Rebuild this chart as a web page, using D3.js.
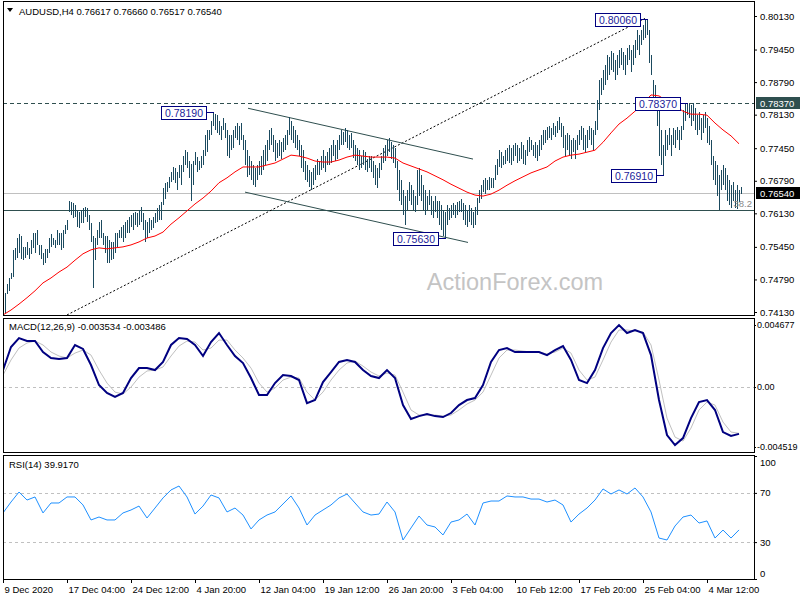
<!DOCTYPE html>
<html><head><meta charset="utf-8">
<script src="https://cdn.jsdelivr.net/npm/d3@7"></script>
<style>body{margin:0;background:#fff}svg{display:block}text{font-family:"Liberation Sans",Arial,sans-serif}</style>
</head><body><svg id="c" width="800" height="600"></svg>
<script>
const symbolName = "AUDUSD,H4";
const lastOHLC = ["0.76617","0.76660","0.76517","0.76540"];
const highs = [
0.7441,0.7451,0.7469,0.7481,0.7492,0.7538,0.7542,0.7564,0.7572,0.7568,
0.7544,0.7544,0.7554,0.7542,0.7558,0.7574,0.7574,0.7579,0.7548,0.7548,
0.7533,0.7540,0.7540,0.7564,0.7572,0.7564,0.7558,0.7579,0.7574,0.7574,
0.7579,0.7589,0.7599,0.7639,0.7635,0.7633,0.7629,0.7619,0.7615,0.7619,
0.7623,0.7625,0.7623,0.7609,0.7593,0.7568,0.7564,0.7579,0.7595,0.7599,
0.7574,0.7568,0.7568,0.7558,0.7554,0.7554,0.7574,0.7574,0.7579,0.7585,
0.7589,0.7595,0.7599,0.7605,0.7609,0.7613,0.7615,0.7613,0.7619,0.7625,
0.7613,0.7599,0.7595,0.7603,0.7599,0.7605,0.7613,0.7623,0.7629,0.7635,
0.7664,0.7674,0.7676,0.7686,0.7696,0.7707,0.7705,0.7696,0.7710,0.7710,
0.7730,0.7741,0.7737,0.7720,0.7714,0.7720,0.7737,0.7727,0.7720,0.7730,
0.7741,0.7771,0.7781,0.7781,0.7801,0.7819,0.7815,0.7812,0.7801,0.7791,
0.7806,0.7797,0.7781,0.7771,0.7771,0.7781,0.7791,0.7797,0.7791,0.7797,
0.7771,0.7761,0.7741,0.7730,0.7720,0.7710,0.7705,0.7710,0.7720,0.7730,
0.7741,0.7751,0.7761,0.7781,0.7785,0.7771,0.7761,0.7755,0.7761,0.7757,
0.7765,0.7771,0.7781,0.7808,0.7801,0.7791,0.7781,0.7771,0.7761,0.7751,
0.7741,0.7720,0.7710,0.7700,0.7696,0.7705,0.7710,0.7724,0.7720,0.7730,
0.7741,0.7730,0.7737,0.7745,0.7751,0.7761,0.7751,0.7761,0.7771,0.7781,
0.7777,0.7785,0.7781,0.7771,0.7775,0.7761,0.7751,0.7745,0.7741,0.7730,
0.7741,0.7737,0.7724,0.7730,0.7730,0.7720,0.7710,0.7705,0.7716,0.7730,
0.7745,0.7751,0.7761,0.7765,0.7757,0.7751,0.7745,0.7720,0.7700,0.7680,
0.7660,0.7649,0.7660,0.7676,0.7670,0.7660,0.7649,0.7700,0.7705,0.7690,
0.7670,0.7660,0.7649,0.7660,0.7649,0.7639,0.7649,0.7639,0.7639,0.7629,
0.7619,0.7615,0.7629,0.7623,0.7629,0.7633,0.7629,0.7635,0.7639,0.7643,
0.7633,0.7629,0.7619,0.7629,0.7623,0.7615,0.7625,0.7645,0.7660,0.7670,
0.7680,0.7684,0.7680,0.7686,0.7684,0.7684,0.7710,0.7724,0.7741,0.7737,
0.7730,0.7741,0.7745,0.7751,0.7745,0.7751,0.7755,0.7751,0.7745,0.7757,
0.7751,0.7741,0.7761,0.7767,0.7761,0.7751,0.7757,0.7751,0.7761,0.7771,
0.7781,0.7781,0.7787,0.7791,0.7785,0.7797,0.7791,0.7801,0.7808,0.7797,
0.7791,0.7771,0.7775,0.7771,0.7761,0.7765,0.7761,0.7771,0.7781,0.7791,
0.7785,0.7771,0.7781,0.7791,0.7785,0.7781,0.7801,0.7842,0.7883,0.7887,
0.7903,0.7913,0.7933,0.7929,0.7942,0.7937,0.7923,0.7933,0.7944,0.7948,
0.7940,0.7933,0.7948,0.7954,0.7944,0.7954,0.7964,0.7984,0.7974,0.7984,
0.7994,0.8004,0.8006,0.7984,0.7933,0.7883,0.7873,0.7842,0.7822,0.7781,
0.7751,0.7781,0.7771,0.7785,0.7771,0.7785,0.7781,0.7787,0.7781,0.7791,
0.7822,0.7835,0.7837,0.7834,0.7832,0.7836,0.7826,0.7812,0.7818,0.7806,
0.7812,0.7818,0.7806,0.7791,0.7761,0.7730,0.7720,0.7710,0.7690,0.7700,
0.7710,0.7705,0.7690,0.7680,0.7670,0.7676,0.7660,0.7670,0.7660,0.7666
];
const lows = [
0.7420,0.7410,0.7449,0.7455,0.7480,0.7483,0.7518,0.7523,0.7533,0.7521,
0.7518,0.7523,0.7528,0.7521,0.7531,0.7542,0.7533,0.7548,0.7528,0.7521,
0.7508,0.7513,0.7523,0.7533,0.7544,0.7548,0.7542,0.7548,0.7548,0.7538,
0.7542,0.7572,0.7579,0.7615,0.7609,0.7603,0.7605,0.7585,0.7583,0.7593,
0.7593,0.7605,0.7595,0.7579,0.7554,0.7461,0.7518,0.7548,0.7562,0.7564,
0.7548,0.7533,0.7513,0.7513,0.7518,0.7521,0.7533,0.7544,0.7562,0.7564,
0.7554,0.7564,0.7574,0.7574,0.7585,0.7579,0.7589,0.7585,0.7589,0.7595,
0.7579,0.7554,0.7564,0.7574,0.7579,0.7583,0.7593,0.7595,0.7599,0.7599,
0.7629,0.7643,0.7656,0.7664,0.7676,0.7680,0.7674,0.7660,0.7684,0.7670,
0.7696,0.7710,0.7704,0.7684,0.7639,0.7670,0.7710,0.7696,0.7700,0.7704,
0.7710,0.7730,0.7737,0.7761,0.7771,0.7791,0.7781,0.7775,0.7771,0.7761,
0.7781,0.7765,0.7730,0.7726,0.7741,0.7745,0.7765,0.7761,0.7751,0.7761,
0.7741,0.7710,0.7686,0.7690,0.7680,0.7670,0.7666,0.7680,0.7690,0.7690,
0.7700,0.7710,0.7720,0.7741,0.7751,0.7737,0.7720,0.7726,0.7730,0.7724,
0.7737,0.7741,0.7751,0.7771,0.7761,0.7755,0.7745,0.7741,0.7730,0.7704,
0.7696,0.7680,0.7676,0.7666,0.7660,0.7670,0.7680,0.7690,0.7690,0.7700,
0.7704,0.7696,0.7710,0.7710,0.7716,0.7730,0.7720,0.7724,0.7741,0.7751,
0.7751,0.7757,0.7745,0.7741,0.7745,0.7726,0.7720,0.7710,0.7700,0.7704,
0.7710,0.7700,0.7696,0.7704,0.7696,0.7684,0.7670,0.7664,0.7684,0.7700,
0.7716,0.7720,0.7730,0.7737,0.7724,0.7716,0.7704,0.7660,0.7639,0.7629,
0.7609,0.7589,0.7619,0.7639,0.7629,0.7619,0.7615,0.7629,0.7649,0.7639,
0.7619,0.7609,0.7619,0.7629,0.7609,0.7603,0.7615,0.7603,0.7589,0.7579,
0.7568,0.7563,0.7589,0.7599,0.7603,0.7609,0.7603,0.7609,0.7615,0.7615,
0.7599,0.7589,0.7585,0.7595,0.7589,0.7583,0.7589,0.7609,0.7633,0.7643,
0.7656,0.7653,0.7660,0.7660,0.7664,0.7664,0.7680,0.7690,0.7706,0.7704,
0.7710,0.7714,0.7720,0.7716,0.7710,0.7720,0.7730,0.7716,0.7720,0.7724,
0.7714,0.7710,0.7730,0.7737,0.7741,0.7730,0.7726,0.7720,0.7730,0.7741,
0.7751,0.7755,0.7761,0.7765,0.7761,0.7771,0.7767,0.7775,0.7781,0.7767,
0.7745,0.7730,0.7741,0.7730,0.7724,0.7737,0.7724,0.7741,0.7751,0.7761,
0.7741,0.7737,0.7745,0.7761,0.7751,0.7741,0.7771,0.7781,0.7822,0.7852,
0.7862,0.7873,0.7883,0.7893,0.7903,0.7899,0.7883,0.7893,0.7907,0.7913,
0.7903,0.7893,0.7913,0.7923,0.7899,0.7913,0.7927,0.7944,0.7933,0.7954,
0.7964,0.7968,0.7974,0.7917,0.7893,0.7832,0.7822,0.7791,0.7730,0.7710,
0.7691,0.7730,0.7741,0.7751,0.7730,0.7751,0.7745,0.7761,0.7741,0.7761,
0.7781,0.7801,0.7812,0.7806,0.7791,0.7801,0.7781,0.7771,0.7781,0.7761,
0.7775,0.7785,0.7755,0.7751,0.7710,0.7680,0.7670,0.7649,0.7619,0.7660,
0.7670,0.7660,0.7639,0.7629,0.7623,0.7639,0.7623,0.7621,0.7635,0.7652
];
// indicator samples, one every 4 bars
const sampleStep = 4;
const ma = [
0.7407,0.7417,0.7429,0.7442,0.7456,0.7472,0.7482,0.7494,0.7504,0.7518,
0.7531,0.7539,0.7543,0.7541,0.7543,0.7545,0.7549,0.7555,0.7563,0.7567,
0.7575,0.7591,0.7604,0.7618,0.7632,0.7644,0.7658,0.7675,0.7685,0.7697,
0.7707,0.7707,0.7707,0.7711,0.7715,0.7723,0.7731,0.7729,0.7725,0.7719,
0.7717,0.7717,0.7721,0.7727,0.7731,0.7729,0.7727,0.7727,0.7727,0.7725,
0.7715,0.7709,0.7703,0.7697,0.7689,0.7681,0.7672,0.7664,0.7656,0.7650,
0.7648,0.7652,0.7660,0.7670,0.7679,0.7687,0.7695,0.7701,0.7707,0.7719,
0.7727,0.7731,0.7733,0.7737,0.7741,0.7757,0.7776,0.7794,0.7806,0.7820,
0.7835,0.7853,0.7851,0.7841,0.7831,0.7820,0.7814,0.7814,0.7812,0.7796,
0.7782,0.7770,0.7754
];
const macdMain = [
0.00128,0.00302,0.00369,0.00347,0.00347,0.00264,0.00219,0.00211,0.00219,0.00317,
0.00287,0.00166,0.00015,-0.00045,-0.00075,-0.00045,0.00068,0.00143,0.00143,0.00128,
0.00189,0.00317,0.00369,0.00362,0.00317,0.00234,0.00339,0.00407,0.00317,0.00234,
0.00181,0.00068,-0.00060,-0.00060,0.00030,0.00090,0.00083,0.00053,-0.00121,-0.00098,
0.00038,0.00113,0.00189,0.00204,0.00189,0.00128,0.00083,0.00068,0.00128,0.00068,
-0.00136,-0.00241,-0.00219,-0.00204,-0.00219,-0.00226,-0.00196,-0.00136,-0.00098,-0.00083,
0.00015,0.00189,0.00279,0.00294,0.00264,0.00264,0.00264,0.00264,0.00241,0.00279,
0.00309,0.00204,0.00053,0.00030,0.00128,0.00294,0.00407,0.00467,0.00407,0.00430,
0.00407,0.00241,-0.00098,-0.00362,-0.00437,-0.00385,-0.00234,-0.00113,-0.00098,-0.00173,
-0.00339,-0.00369,-0.00353
];
const macdSignal = [
0.00090,0.00204,0.00294,0.00332,0.00347,0.00317,0.00264,0.00234,0.00219,0.00256,
0.00279,0.00241,0.00128,0.00030,-0.00038,-0.00053,0.00000,0.00075,0.00121,0.00128,
0.00151,0.00234,0.00309,0.00347,0.00339,0.00279,0.00294,0.00354,0.00354,0.00279,
0.00219,0.00143,0.00030,-0.00038,-0.00008,0.00053,0.00075,0.00068,-0.00038,-0.00098,
-0.00038,0.00053,0.00128,0.00181,0.00196,0.00158,0.00113,0.00083,0.00106,0.00090,
-0.00038,-0.00173,-0.00211,-0.00211,-0.00211,-0.00219,-0.00211,-0.00173,-0.00128,-0.00098,
-0.00038,0.00090,0.00219,0.00279,0.00279,0.00271,0.00264,0.00264,0.00249,0.00264,
0.00294,0.00256,0.00128,0.00053,0.00075,0.00204,0.00339,0.00430,0.00430,0.00422,
0.00415,0.00317,0.00053,-0.00234,-0.00377,-0.00407,-0.00309,-0.00173,-0.00113,-0.00136,
-0.00264,-0.00339,-0.00349
];
const rsi = [
53.7,62.6,70.7,64.2,66.7,53.7,61.8,61.8,66.7,66.7,
60.2,48,50.4,48,48,53.7,56.1,59.3,49.6,57.7,
65.9,72.4,75.6,66.7,52.8,59.3,68.3,65.9,54.5,57.7,
52,40.7,48,52,54.5,61,67.5,57.7,43.9,52,
56.1,60.2,65.9,69.1,61.8,54.5,52,52.8,62.6,54.5,
31.7,41.5,51.2,43.9,42.3,35.8,46.3,48,52.8,43.9,
61.8,63.4,63.4,67.5,66.7,66.7,65,65,62.6,64.2,
60.2,46.3,52.8,57.7,64.2,73.2,69.1,72.4,69.1,74,
66.7,54.5,33.3,31.7,43.1,50.4,52,45.5,47.2,33.3,
39.8,33.3,39.9
];
const macdTitle = "MACD(12,26,9) -0.003534 -0.003486";
const rsiTitle = "RSI(14) 39.9170";
const priceTicks = [0.80130,0.79450,0.78790,0.78130,0.77450,0.76790,0.76130,0.75450,0.74790,0.74130];
const macdTicks = [0.004677,0,-0.004519];
const macdTickLabels = ["0.004677","0.00","-0.004519"];
const rsiTicks = [100,70,30,0];
const timeTickIdx = [0,32,64,96,128,160,192,224,256,288,320,352];
const timeLabels = ["9 Dec 2020","17 Dec 04:00","24 Dec 12:00","4 Jan 20:00","12 Jan 04:00","19 Jan 12:00","26 Jan 20:00","3 Feb 04:00","10 Feb 12:00","17 Feb 20:00","25 Feb 04:00","4 Mar 12:00"];
const resistanceLevel = 0.78370;
const fibLevel = 0.7620;
const fibText = "38.2";
const lastPrice = 0.76540;
const trendUp = [[32,0.7407],[321,0.8008]];
const channelTop = [[122.5,0.7826],[235,0.7723]];
const channelBottom = [[121,0.7656],[232.5,0.7554]];
const pivots = [{i:105,p:0.78190},{i:221,p:0.75630},{i:322,p:0.80060},{i:342,p:0.78370},{i:330,p:0.76910}];
const watermark = "ActionForex.com";

const svg = d3.select("#c");
const L = 3, R = 754;
const main = {t:1, b:315}, mp = {t:318, b:452}, rp = {t:455, b:579};
const x = d3.scaleLinear().domain([0, highs.length-1]).range([3, 3 + 2*(highs.length-1)]);
const yP = d3.scaleLinear().domain([0.74130, 0.80130]).range([312, 16]);
const yM = d3.scaleLinear().domain([-0.004519, 0.004677]).range([447, 325]);
const yR = d3.scaleLinear().domain([0, 100]).range([579, 456]);
const px = v => Math.round(v) + 0.5;

function clip(id, p){ svg.append("clipPath").attr("id", id).append("rect").attr("x", L+1).attr("y", p.t+1).attr("width", R-L-1).attr("height", p.b-p.t-1); }
clip("cm", main); clip("cd", mp); clip("cr", rp);
const gMain = svg.append("g").attr("clip-path", "url(#cm)");
const gMacd = svg.append("g").attr("clip-path", "url(#cd)");
const gRsi = svg.append("g").attr("clip-path", "url(#cr)");

// watermark
gMain.append("text").attr("x", 515).attr("y", 290).attr("text-anchor","middle")
  .attr("font-size", 23.5).attr("fill", "#c4c4c4").text(watermark);

// horizontal levels
gMain.append("line").attr("x1", L).attr("x2", R).attr("y1", px(yP(lastPrice))).attr("y2", px(yP(lastPrice))).attr("stroke", "#c0c0c0");
gMain.append("line").attr("x1", L).attr("x2", R).attr("y1", px(yP(fibLevel))).attr("y2", px(yP(fibLevel))).attr("stroke", "#2f4f4f");
gMain.append("line").attr("x1", L).attr("x2", R).attr("y1", px(yP(resistanceLevel))).attr("y2", px(yP(resistanceLevel))).attr("stroke", "#2f4f4f").attr("stroke-dasharray", "4,3");

// trendlines
const seg = (pts) => d3.line().x(d => x(d[0])).y(d => yP(d[1]))(pts);
gMain.append("path").attr("d", seg(trendUp)).attr("stroke", "#000").attr("stroke-dasharray", "2,2").attr("fill", "none");
gMain.append("path").attr("d", seg(channelTop)).attr("stroke", "#2f4f4f").attr("fill", "none");
gMain.append("path").attr("d", seg(channelBottom)).attr("stroke", "#2f4f4f").attr("fill", "none");

// bars
gMain.append("g").selectAll("line").data(highs).join("line")
  .attr("x1", (d,i) => x(i)+0.5).attr("x2", (d,i) => x(i)+0.5)
  .attr("y1", d => Math.round(yP(d))).attr("y2", (d,i) => Math.max(Math.round(yP(lows[i])), Math.round(yP(d))+1))
  .attr("stroke", "#1b4a5f").attr("stroke-width", 1);

// moving average
gMain.append("path").datum(ma).attr("d", d3.line().x((d,k) => x(k*sampleStep)).y(d => yP(d)))
  .attr("fill","none").attr("stroke","#ff0000").attr("stroke-width",1);

gMain.append("text").attr("x", 752).attr("y", yP(fibLevel)-3).attr("text-anchor","end").attr("font-size", 9.5).attr("fill", "#8a8a8a").text(fibText);

// pivot labels
pivots.forEach(pv => {
  const bx = x(pv.i) - 7, by = yP(pv.p);
  gMain.append("line").attr("x1", bx).attr("x2", x(pv.i)+1).attr("y1", px(by)).attr("y2", px(by)).attr("stroke", "#000080");
  gMain.append("rect").attr("x", bx-45+0.5).attr("y", Math.round(by)-6+0.5).attr("width", 45).attr("height", 13)
    .attr("fill", "#fff").attr("stroke", "#000080");
  gMain.append("text").attr("x", bx-22).attr("y", Math.round(by)+4.5).attr("text-anchor","middle")
    .attr("font-size", 10.5).attr("fill", "#1c1c9a").text(pv.p.toFixed(5));
});

// MACD
gMacd.append("line").attr("x1", L).attr("x2", R).attr("y1", px(yM(0))).attr("y2", px(yM(0))).attr("stroke","#c0c0c0").attr("stroke-dasharray","3,3");
gMacd.append("path").datum(macdSignal).attr("d", d3.line().x((d,k) => x(k*sampleStep)).y(d => yM(d)))
  .attr("fill","none").attr("stroke","#c0c0c0").attr("stroke-width",1);
gMacd.append("path").datum(macdMain).attr("d", d3.line().x((d,k) => x(k*sampleStep)).y(d => yM(d)))
  .attr("fill","none").attr("stroke","#000080").attr("stroke-width",2);

// RSI
[70,30].forEach(v => gRsi.append("line").attr("x1", L).attr("x2", R).attr("y1", px(yR(v))).attr("y2", px(yR(v))).attr("stroke","#c0c0c0").attr("stroke-dasharray","3,3"));
gRsi.append("path").datum(rsi).attr("d", d3.line().x((d,k) => x(k*sampleStep)).y(d => yR(d)))
  .attr("fill","none").attr("stroke","#1e90ff").attr("stroke-width",1);

// frames
[main, mp, rp].forEach(p => svg.append("rect").attr("x", L+0.5).attr("y", p.t+0.5).attr("width", R-L).attr("height", p.b-p.t)
  .attr("fill","none").attr("stroke","#000"));

// titles
svg.append("path").attr("d","M7,8 L13,8 L10,12 Z").attr("fill","#000");
svg.append("text").attr("x", 19).attr("y", 14.5).attr("font-size", 9.5).text(symbolName + "  " + lastOHLC.join(" "));
svg.append("text").attr("x", 9).attr("y", 330).attr("font-size", 9.5).text(macdTitle);
svg.append("text").attr("x", 9).attr("y", 468).attr("font-size", 9.5).text(rsiTitle);

// axes
function styleAxis(g, fs){ g.select(".domain").remove(); g.selectAll("text").attr("font-size", fs || 9.5).attr("fill","#000").attr("font-family","Liberation Sans, Arial, sans-serif"); g.selectAll("line").attr("stroke","#000"); }
const ap = svg.append("g").attr("transform", `translate(${R},0)`).call(d3.axisRight(yP).tickValues(priceTicks).tickSize(3).tickPadding(3).tickFormat(d3.format(".5f")));
styleAxis(ap);
const am = svg.append("g").attr("transform", `translate(${R},0)`).call(d3.axisRight(yM).tickValues(macdTicks).tickSize(2).tickPadding(1).tickFormat((d,i) => macdTickLabels[i]));
styleAxis(am, 9);
const ar = svg.append("g").attr("transform", `translate(${R},0)`).call(d3.axisRight(yR).tickValues(rsiTicks).tickSize(3).tickPadding(3));
styleAxis(ar);
ar.selectAll(".tick").filter(d => d === 100).select("text").attr("transform","translate(0,6)");
ar.selectAll(".tick").filter(d => d === 0).select("text").attr("transform","translate(0,-6)");
const ax = svg.append("g").attr("transform", `translate(0,${rp.b})`).call(d3.axisBottom(x).tickValues(timeTickIdx).tickSize(4).tickPadding(3).tickFormat((d,i) => timeLabels[i]));
styleAxis(ax);
ax.selectAll("text").attr("text-anchor","start").attr("dx", 1);

// price tags on right axis
function tag(v, fill){
  const y = Math.round(yP(v));
  svg.append("rect").attr("x", R+2).attr("y", y-6).attr("width", 44).attr("height", 12).attr("fill", fill);
  svg.append("text").attr("x", R+6).attr("y", y+3.5).attr("font-size", 9.5).attr("fill","#fff").text(v.toFixed(5));
}
tag(resistanceLevel, "#2f4f4f");
tag(lastPrice, "#000");
</script></body></html>
